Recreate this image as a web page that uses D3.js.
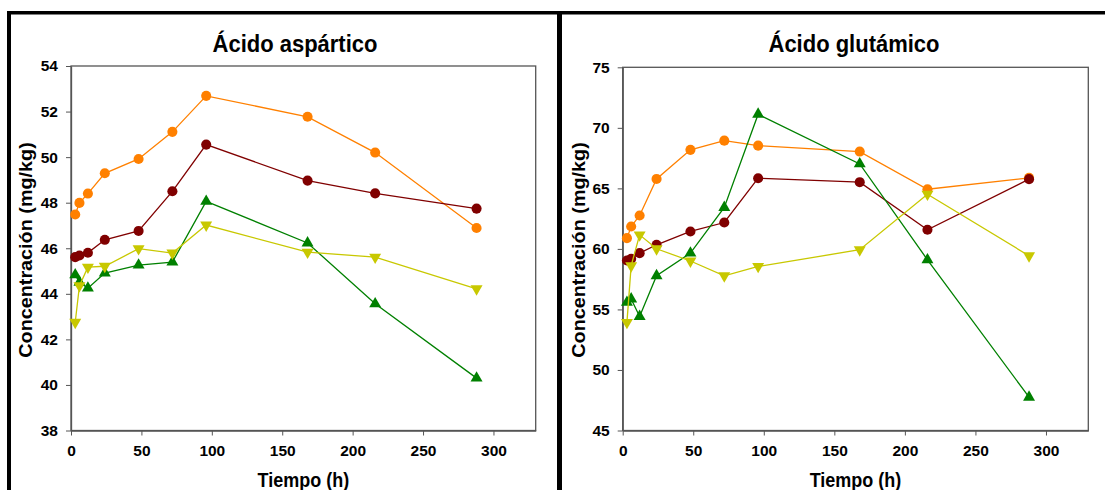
<!DOCTYPE html>
<html lang="es">
<head>
<meta charset="utf-8">
<title>Ácido aspártico y glutámico</title>
<script src="https://cdn.jsdelivr.net/npm/d3@7"></script>
<style>
    html, body { margin: 0; padding: 0; background: #fff; }
    #chart { width: 1105px; height: 490px; }
    text { font-family: "Liberation Sans", Arial, sans-serif; font-weight: bold; fill: #000; }
</style>
</head>
<body>
<div id="chart"></div>
<script>
// Tiempos de muestreo (h)
const tiempo = [3, 6, 12, 24, 48, 72, 96, 168, 216, 288];

// Ácido aspártico (mg/kg)
const aspNaranja = [47.48, 47.99, 48.40, 49.29, 49.92, 51.11, 52.69, 51.77, 50.20, 46.89];
const aspGranate = [45.61, 45.68, 45.80, 46.37, 46.76, 48.50, 50.55, 48.97, 48.41, 47.74];
const aspVerde = [44.83, 44.51, 44.25, 44.91, 45.26, 45.39, 48.06, 46.23, 43.56, 40.30];
const aspAmarillo = [42.75, 44.36, 45.17, 45.21, 45.98, 45.79, 47.02, 45.83, 45.61, 44.22];

// Ácido glutámico (mg/kg)
const gluNaranja = [60.89, 61.85, 62.76, 65.78, 68.18, 68.94, 68.53, 68.04, 64.93, 65.87];
const gluGranate = [59.04, 59.18, 59.65, 60.34, 61.44, 62.18, 65.84, 65.51, 61.58, 65.76];
const gluVerde = [55.58, 55.86, 54.42, 57.78, 59.65, 63.42, 71.12, 67.02, 59.10, 47.75];
const gluAmarillo = [53.93, 58.61, 61.16, 60.01, 59.00, 57.78, 58.55, 59.93, 64.52, 59.43];

// Marcas de los ejes
const xTicks = [0, 50, 100, 150, 200, 250, 300];
const aspTicks = [38, 40, 42, 44, 46, 48, 50, 52, 54];
const gluTicks = [45, 50, 55, 60, 65, 70, 75];

const svg = d3.select("#chart").append("svg")
    .attr("width", 1105)
    .attr("height", 490);

// estilo de cada serie
const series = [
    { color: "#ff8000", shape: "circle" },
    { color: "#800000", shape: "circle" },
    { color: "#008000", shape: "up" },
    { color: "#c8c800", shape: "down" }
];

function drawPanel(opt) {
    const x = d3.scaleLinear().domain([0, 330]).range([opt.left, opt.right]);
    const y = d3.scaleLinear().domain(opt.domain).range([opt.bottom, opt.top]);
    const g = svg.append("g");

    // marco del área de trazado
    g.append("rect")
        .attr("x", opt.left).attr("y", opt.top)
        .attr("width", opt.right - opt.left)
        .attr("height", opt.bottom - opt.top)
        .attr("fill", "none")
        .attr("stroke", "#555")
        .attr("stroke-width", 1.3);

    const ax = g.append("g")
        .attr("transform", `translate(0,${opt.bottom})`)
        .call(d3.axisBottom(x).tickValues(xTicks).tickSize(5).tickSizeOuter(0).tickPadding(9));
    const ay = g.append("g")
        .attr("transform", `translate(${opt.left},0)`)
        .call(d3.axisLeft(y).tickValues(opt.ticks).tickSize(5).tickSizeOuter(0).tickPadding(8));

    [ax, ay].forEach(a => {
        a.select(".domain").attr("stroke", "#555").attr("stroke-width", 1.3);
        a.selectAll(".tick line").attr("stroke", "#555");
        a.selectAll(".tick text")
            .attr("font-size", 15.5)
            .attr("font-family", "Liberation Sans, Arial, sans-serif")
            .attr("font-weight", "bold")
            .attr("fill", "#000");
    });

    // líneas y marcadores
    opt.values.forEach((vals, i) => {
        const s = series[i];
        const pts = tiempo.map((t, k) => [t, vals[k]]);
        g.append("path")
            .datum(pts)
            .attr("fill", "none")
            .attr("stroke", s.color)
            .attr("stroke-width", 1.3)
            .attr("d", d3.line().x(d => x(d[0])).y(d => y(d[1])));

        const sym = s.shape === "circle"
            ? d3.symbol().type(d3.symbolCircle).size(80)
            : d3.symbol().type(d3.symbolTriangle).size(62);
        g.selectAll(null)
            .data(pts)
            .enter().append("path")
            .attr("d", sym)
            .attr("fill", s.color)
            .attr("transform", d => `translate(${x(d[0])},${y(d[1])})` + (s.shape === "down" ? " rotate(180)" : ""));
    });

    // títulos
    g.append("text")
        .attr("transform", `translate(${opt.titleX},52) scale(1,1.1)`)
        .attr("text-anchor", "middle")
        .attr("font-size", 22)
        .text(opt.title);

    g.append("text")
        .attr("transform", `translate(${(opt.left + opt.right) / 2},487) scale(1,1.1)`)
        .attr("text-anchor", "middle")
        .attr("font-size", 18)
        .text("Tiempo (h)");

    g.append("text")
        .attr("transform", `translate(${opt.yLabelX},250) rotate(-90) scale(1.1,1)`)
        .attr("text-anchor", "middle")
        .attr("font-size", 18)
        .text("Concentración (mg/kg)");
}

drawPanel({
    left: 71, right: 535.7, top: 66, bottom: 430.5,
    domain: [38, 54], ticks: aspTicks,
    values: [aspNaranja, aspGranate, aspVerde, aspAmarillo],
    title: "Ácido aspártico", titleX: 295, yLabelX: 32
});

drawPanel({
    left: 622.7, right: 1088.3, top: 67.3, bottom: 430.5,
    domain: [45, 75], ticks: gluTicks,
    values: [gluNaranja, gluGranate, gluVerde, gluAmarillo],
    title: "Ácido glutámico", titleX: 854, yLabelX: 585
});

// bordes negros de los recuadros
svg.append("rect").attr("x", 7).attr("y", 11).attr("width", 1098).attr("height", 3.5).attr("fill", "#000");
svg.append("rect").attr("x", 7).attr("y", 11).attr("width", 4).attr("height", 479).attr("fill", "#000");
svg.append("rect").attr("x", 557).attr("y", 11).attr("width", 5).attr("height", 479).attr("fill", "#000");
</script>
</body>
</html>
